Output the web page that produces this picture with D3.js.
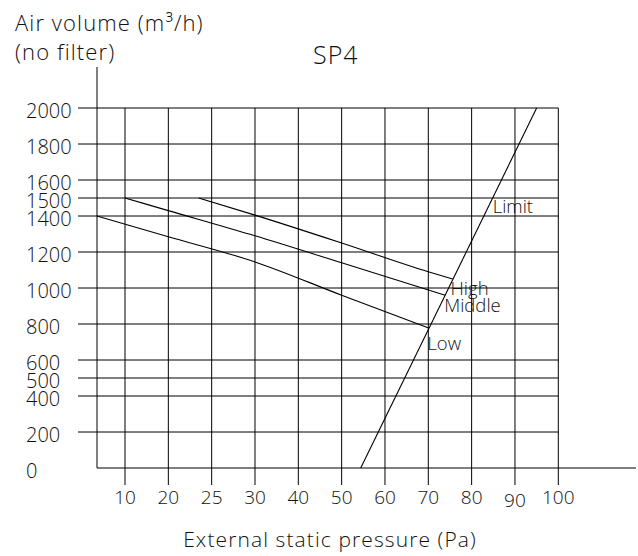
<!DOCTYPE html>
<html>
<head>
<meta charset="utf-8">
<script src="https://cdn.jsdelivr.net/npm/d3@7"></script>
<style>
  html, body { margin: 0; padding: 0; background: #fff; }
  svg { display: block; }
  text { font-family: "Open Sans", "DejaVu Sans", sans-serif; font-weight: 300; fill: #111; }
</style>
</head>
<body>
<svg id="chart" width="638" height="556"></svg>
<script>
// ---- data ----
const xTicks = [10, 20, 25, 30, 40, 50, 60, 70, 80, 90, 100];
const yTicks = [0, 200, 400, 500, 600, 800, 1000, 1200, 1400, 1500, 1600, 1800, 2000];

const lowX  = [3.5, 20, 30, 50, 70];
const lowY  = [1400, 1285, 1145, 960, 778];
const midX  = [10, 20, 30, 50, 73.9];
const midY  = [1500, 1430, 1290, 1140, 960];
const highX = [23.5, 30, 50, 70, 75.6];
const highY = [1500, 1405, 1250, 1090, 1050];
const limitX = [54.4, 95];
const limitY = [0, 2000];

const title = "SP4";
const yTitle1 = "Air volume (m³/h)";
const yTitle2 = "(no filter)";
const xTitle = "External static pressure (Pa)";

// ---- layout ----
const svg = d3.select("#chart");
const xStart = 125, xStep = 43.33;
const x = d3.scaleLinear()
  .domain(xTicks)
  .range(xTicks.map((d, i) => xStart + i * xStep));
const y = d3.scaleLinear().domain([0, 2000]).range([468, 108]);
const axisX = 97;          // pixel of y axis
const gridLeft = 78, gridRight = x(100);

const g = svg.append("g");

// horizontal grid lines
g.selectAll("line.hg").data(yTicks.filter(d => d > 0)).enter().append("line")
  .attr("x1", gridLeft).attr("x2", gridRight)
  .attr("y1", d => y(d)).attr("y2", d => y(d))
  .attr("stroke", "#000").attr("stroke-width", 1);

// vertical grid lines (extending below axis as ticks)
g.selectAll("line.vg").data(xTicks).enter().append("line")
  .attr("x1", d => x(d)).attr("x2", d => x(d))
  .attr("y1", y(2000)).attr("y2", y(0) + 17)
  .attr("stroke", "#000").attr("stroke-width", 1);

// y axis
g.append("line").attr("x1", axisX).attr("x2", axisX)
  .attr("y1", 67).attr("y2", y(0)).attr("stroke", "#000");
// x axis
g.append("line").attr("x1", axisX).attr("x2", 636)
  .attr("y1", y(0)).attr("y2", y(0)).attr("stroke", "#000");

// y tick labels
g.selectAll("text.yt").data(yTicks).enter().append("text")
  .attr("x", 26).attr("y", d => y(d) + 4.5)
  .attr("dominant-baseline", "middle")
  .attr("font-size", 20)
  .text(d => d);

// x tick labels
g.selectAll("text.xt").data(xTicks).enter().append("text")
  .attr("x", d => x(d)).attr("y", d => d === 90 ? 507 : 504)
  .attr("text-anchor", "middle")
  .attr("font-size", 19)
  .text(d => d);

// curves
const line = d3.line().x(d => x(d[0])).y(d => y(d[1])).curve(d3.curveMonotoneX);
const series = [
  {name: "Low", xs: lowX, ys: lowY},
  {name: "Middle", xs: midX, ys: midY},
  {name: "High", xs: highX, ys: highY},
  {name: "Limit", xs: limitX, ys: limitY}
];
series.forEach(s => {
  g.append("path")
    .datum(d3.zip(s.xs, s.ys))
    .attr("d", line)
    .attr("fill", "none")
    .attr("stroke", "#000")
    .attr("stroke-width", 1.1);
});

// series labels
const endOf = s => [x(s.xs[s.xs.length - 1]), y(s.ys[s.ys.length - 1])];
const [hx, hy] = endOf(series[2]);
const [mx, my] = endOf(series[1]);
const [lx, ly] = endOf(series[0]);
const limitAt = v => x(limitX[0] + (limitX[1] - limitX[0]) * (v - limitY[0]) / (limitY[1] - limitY[0]));
const labels = [
  {t: "High", x: hx - 2, y: hy + 16},
  {t: "Middle", x: mx - 1, y: my + 17},
  {t: "Low", x: lx - 1, y: ly + 22},
  {t: "Limit", x: limitAt(1500), y: y(1500) + 15}
];
g.selectAll("text.sl").data(labels).enter().append("text")
  .attr("x", d => d.x).attr("y", d => d.y)
  .attr("font-size", 18.5)
  .text(d => d.t);

// titles
svg.append("text").attr("x", 15).attr("y", 31).attr("font-size", 22)
  .attr("letter-spacing", 1.1).text(yTitle1);
svg.append("text").attr("x", 15).attr("y", 60).attr("font-size", 22)
  .attr("letter-spacing", 1.1).text(yTitle2);
svg.append("text").attr("x", 313).attr("y", 64).attr("font-size", 25)
  .attr("letter-spacing", 1).text(title);
svg.append("text").attr("x", 330).attr("y", 547).attr("text-anchor", "middle")
  .attr("font-size", 21).attr("letter-spacing", 1.1).text(xTitle);
</script>
</body>
</html>
